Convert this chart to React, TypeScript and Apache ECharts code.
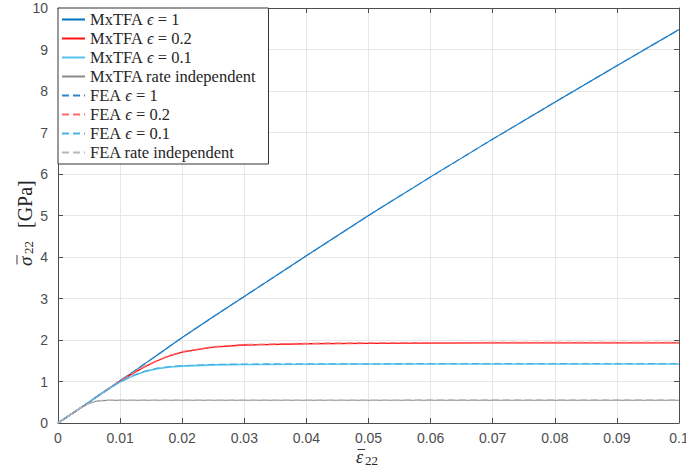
import React, { useEffect, useRef } from "react";
import * as echarts from "echarts";

const strain = [0, 0.002, 0.004, 0.005, 0.006, 0.007, 0.008, 0.01, 0.012, 0.014, 0.016, 0.018, 0.02, 0.025, 0.03, 0.04, 0.05, 0.06, 0.07, 0.08, 0.09, 0.1];

const mx1 = [0, 0.2, 0.4, 0.5, 0.61, 0.71, 0.81, 1.02, 1.22, 1.43, 1.64, 1.85, 2.06, 2.56, 3.05, 4.03, 5.0, 5.93, 6.84, 7.73, 8.61, 9.48];
const mx02 = [0, 0.2, 0.4, 0.5, 0.61, 0.71, 0.81, 1.01, 1.19, 1.36, 1.5, 1.62, 1.71, 1.83, 1.88, 1.91, 1.92, 1.925, 1.93, 1.93, 1.93, 1.93];
const mx01 = [0, 0.2, 0.4, 0.5, 0.61, 0.71, 0.81, 0.99, 1.13, 1.24, 1.31, 1.35, 1.37, 1.4, 1.41, 1.415, 1.42, 1.42, 1.42, 1.42, 1.42, 1.42];
const mxRI = [0, 0.2, 0.4, 0.47, 0.52, 0.54, 0.545, 0.55, 0.55, 0.55, 0.55, 0.55, 0.55, 0.55, 0.55, 0.55, 0.55, 0.55, 0.55, 0.55, 0.55, 0.55];

const fea1 = [0, 0.2, 0.4, 0.5, 0.61, 0.71, 0.81, 1.02, 1.22, 1.43, 1.64, 1.85, 2.06, 2.56, 3.05, 4.03, 5.0, 5.93, 6.84, 7.73, 8.61, 9.48];
const fea02 = [0, 0.2, 0.4, 0.5, 0.61, 0.71, 0.81, 1.01, 1.2, 1.37, 1.51, 1.63, 1.72, 1.84, 1.89, 1.92, 1.93, 1.935, 1.94, 1.94, 1.94, 1.94];
const fea01 = [0, 0.2, 0.4, 0.5, 0.61, 0.71, 0.81, 0.99, 1.14, 1.25, 1.32, 1.36, 1.38, 1.41, 1.42, 1.425, 1.425, 1.43, 1.43, 1.43, 1.43, 1.43];
const feaRI = [0, 0.2, 0.4, 0.47, 0.52, 0.54, 0.548, 0.552, 0.552, 0.552, 0.552, 0.552, 0.552, 0.552, 0.552, 0.552, 0.552, 0.555, 0.555, 0.555, 0.555, 0.555];

const seriesNames = [
  "MxTFA ϵ = 1",
  "MxTFA ϵ = 0.2",
  "MxTFA ϵ = 0.1",
  "MxTFA rate independent",
  "FEA ϵ = 1",
  "FEA ϵ = 0.2",
  "FEA ϵ = 0.1",
  "FEA rate independent",
];
const seriesValues = [mx1, mx02, mx01, mxRI, fea1, fea02, fea01, feaRI];
const seriesColors = ["#0072BD", "#FF1010", "#55C3EE", "#8a8a8a", "#2F86CF", "#FF6B6B", "#45B3E6", "#b8b8b8"];
const seriesDashed = [false, false, false, false, true, true, true, true];
const seriesWidths = [1.1, 1.3, 1.6, 1.1, 1.3, 1.3, 1.3, 1.3];

const SERIF = "'Liberation Serif', 'Times New Roman', serif";
const SANS = "'Liberation Sans', Arial, Helvetica, sans-serif";
const NAME_COLOR = "#262626";

export default function App() {
  const ref = useRef<HTMLDivElement>(null);
  useEffect(() => {
    if (!ref.current) return;
    const chart = echarts.init(ref.current, undefined, { renderer: "svg" });
    const axisColor = "#4d4d4d";
    const fmt = (v: number) => (v === 0 ? "0" : String(+v.toFixed(2)));
    const series = seriesNames.map((name, i) => ({
      name,
      type: "line",
      data: strain.map((x, k) => [x, seriesValues[i][k]]),
      symbol: "none",
      showSymbol: false,
      smooth: false,
      xAxisIndex: 0,
      yAxisIndex: 0,
      lineStyle: {
        color: seriesColors[i],
        width: seriesWidths[i],
        type: seriesDashed[i] ? [7, 4] : "solid",
      },
      itemStyle: { color: seriesColors[i] },
      z: i < 4 ? 2 : 3,
    }));
    const txt = (text: string, x: number, y: number, size: number, italic: boolean) => ({
      type: "text",
      x,
      y,
      style: {
        text,
        fill: NAME_COLOR,
        font: `${italic ? "italic " : ""}${size}px ${SERIF}`,
        align: "left",
        verticalAlign: "middle",
      },
    });
    const bar = (x1: number, x2: number, y: number) => ({
      type: "line",
      shape: { x1, y1: y, x2, y2: y },
      style: { stroke: NAME_COLOR, lineWidth: 0.9 },
    });
    chart.setOption({
      animation: false,
      backgroundColor: "#ffffff",
      grid: { left: 58, right: 7, top: 8, bottom: 48, containLabel: false, outerBoundsMode: "none" },
      legend: {
        show: true,
        orient: "vertical",
        left: 58,
        top: 8,
        padding: [3, 12, 3, 3],
        itemGap: 2,
        itemWidth: 23,
        itemHeight: 12,
        backgroundColor: "#ffffff",
        borderColor: "#333333",
        borderWidth: 1,
        borderRadius: 0,
        itemStyle: { opacity: 0, borderWidth: 0 },
        data: seriesNames,
        formatter: (name: string) => name.replace("ϵ", "{i|ϵ}"),
        textStyle: {
          fontFamily: SERIF,
          fontSize: 16.5,
          color: NAME_COLOR,
          lineHeight: 17,
          rich: {
            i: { fontFamily: SERIF, fontStyle: "italic", fontSize: 16.5, color: NAME_COLOR, lineHeight: 17 },
          },
        },
      },
      graphic: [
        {
          type: "group",
          x: 356,
          y: 456.5,
          silent: true,
          children: [txt("ε", 0, 0, 18, true), bar(1.5, 9, -7), txt("22", 9, 4, 13, false)],
        },
        {
          type: "group",
          x: 25,
          y: 266,
          rotation: Math.PI / 2,
          silent: true,
          children: [
            txt("σ", 0, 0, 19, true),
            bar(1.5, 11, -8),
            txt("22", 12, 3, 13, false),
            txt("[GPa]", 38, 0, 20, false),
          ],
        },
      ],
      xAxis: [
        {
          type: "value",
          min: 0,
          max: 0.1,
          interval: 0.01,
          position: "bottom",
          axisLine: { show: true, onZero: false, lineStyle: { color: axisColor, width: 1 } },
          axisTick: { show: true, inside: true, length: 5, lineStyle: { color: axisColor } },
          axisLabel: { show: true, fontFamily: SANS, fontSize: 14, color: "#4d4d4d", margin: 8, formatter: fmt },
          splitLine: { show: true, lineStyle: { color: "#e6e6e6", width: 1 } },
        },
        {
          type: "value",
          min: 0,
          max: 0.1,
          interval: 0.01,
          position: "top",
          axisLine: { show: true, onZero: false, lineStyle: { color: axisColor, width: 1 } },
          axisTick: { show: true, inside: true, length: 5, lineStyle: { color: axisColor } },
          axisLabel: { show: false },
          splitLine: { show: false },
        },
      ],
      yAxis: [
        {
          type: "value",
          min: 0,
          max: 10,
          interval: 1,
          position: "left",
          axisLine: { show: true, onZero: false, lineStyle: { color: axisColor, width: 1 } },
          axisTick: { show: true, inside: true, length: 5, lineStyle: { color: axisColor } },
          axisLabel: { show: true, fontFamily: SANS, fontSize: 14, color: "#4d4d4d", margin: 10 },
          splitLine: { show: true, lineStyle: { color: "#e6e6e6", width: 1 } },
        },
        {
          type: "value",
          min: 0,
          max: 10,
          interval: 1,
          position: "right",
          axisLine: { show: true, onZero: false, lineStyle: { color: axisColor, width: 1 } },
          axisTick: { show: true, inside: true, length: 5, lineStyle: { color: axisColor } },
          axisLabel: { show: false },
          splitLine: { show: false },
        },
      ],
      series,
    });
    return () => chart.dispose();
  }, []);
  return <div ref={ref} style={{ width: 686, height: 471, position: "absolute", left: 0, top: 0 }} />;
}
